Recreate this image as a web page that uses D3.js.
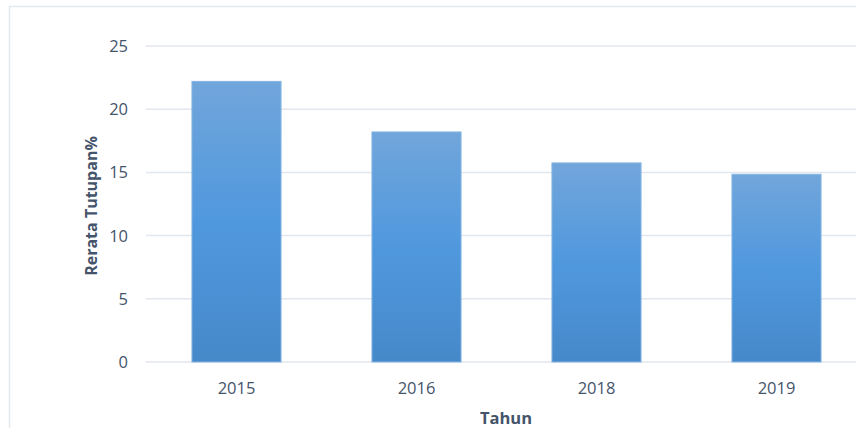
<!DOCTYPE html>
<html><head><meta charset="utf-8">
<script src="https://cdn.jsdelivr.net/npm/d3@7"></script>
<style>body{margin:0;background:#fff}svg{display:block}</style>
</head><body><svg id="c" width="856" height="428"></svg>
<script>
const categories = ["2015","2016","2018","2019"];
const values = [22.2, 18.2, 15.75, 14.85];
const yTicks = [0,5,10,15,20,25];
const yTitle = "Rerata Tutupan%";
const xTitle = "Tahun";

const svg = d3.select("#c");
const font = "'Open Sans', 'Noto Sans', sans-serif";
const textCol = "#44546a";

// outer frame
svg.append("path").attr("d","M9.5,428 V6.5 H856").attr("fill","none").attr("stroke","#e3e7ee").attr("stroke-width",1.5);

const x = d3.scaleBand().domain(categories).range([146.5, 866.5]).paddingInner(0.505).paddingOuter(0.2525);
const y = d3.scaleLinear().domain([0,25]).range([362, 46]);

const defs = svg.append("defs");
const g = defs.append("linearGradient").attr("id","bg").attr("x1",0).attr("y1",0).attr("x2",0).attr("y2",1);
g.append("stop").attr("offset","0%").attr("stop-color","#71a6db");
g.append("stop").attr("offset","50%").attr("stop-color","#5098de");
g.append("stop").attr("offset","100%").attr("stop-color","#4689c9");

// gridlines
svg.append("g").selectAll("line").data(yTicks).join("line")
  .attr("x1",146).attr("x2",856).attr("y1",d=>y(d)).attr("y2",d=>y(d))
  .attr("stroke","#e2e6ee").attr("stroke-width",1.5);

// y tick labels
svg.append("g").selectAll("text").data(yTicks).join("text")
  .attr("x",128).attr("y",d=>y(d)).attr("dy","0.36em").attr("text-anchor","end")
  .attr("font-family",font).attr("font-size",16.5).attr("fill",textCol).text(d=>d);

// bars
svg.append("g").selectAll("rect").data(categories).join("rect")
  .attr("x",d=>x(d)).attr("width",x.bandwidth())
  .attr("y",(d,i)=>y(values[i])).attr("height",(d,i)=>y(0)-y(values[i]))
  .attr("fill","url(#bg)").attr("stroke","#86b5e3").attr("stroke-width",1);

// x tick labels
svg.append("g").selectAll("text").data(categories).join("text")
  .attr("x",d=>x(d)+x.bandwidth()/2).attr("y",388).attr("dy","0.36em").attr("text-anchor","middle")
  .attr("font-family",font).attr("font-size",16.5).attr("fill",textCol).text(d=>d);

// axis titles
svg.append("text").attr("transform","translate(91,206) rotate(-90)").attr("dy","0.36em")
  .attr("text-anchor","middle").attr("font-family",font).attr("font-size",16).attr("font-weight","bold")
  .attr("fill",textCol).text(yTitle);
svg.append("text").attr("x",506).attr("y",418).attr("dy","0.36em")
  .attr("text-anchor","middle").attr("font-family",font).attr("font-size",16.5).attr("font-weight","bold")
  .attr("fill",textCol).text(xTitle);
</script></body></html>
